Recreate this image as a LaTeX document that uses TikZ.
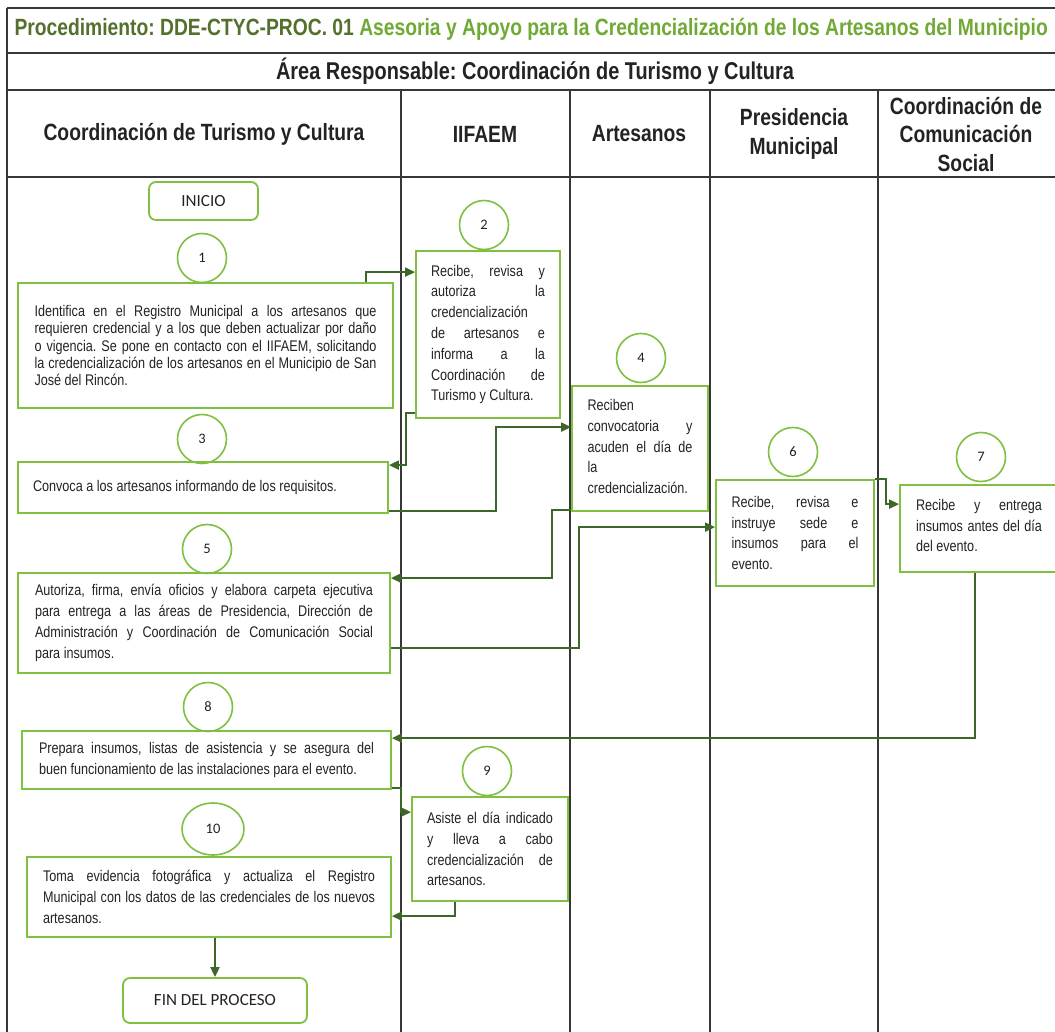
\documentclass[tikz,border=0pt]{standalone}
\usepackage{fontspec}
\setmainfont{Liberation Sans}[FakeStretch=0.82]
\newfontfamily\calib{Carlito}
\usetikzlibrary{arrows.meta,shapes.geometric}
\frenchspacing

\definecolor{boxgreen}{RGB}{128,192,64}
\definecolor{linkgreen}{RGB}{62,102,40}
\definecolor{titledark}{RGB}{84,112,44}
\definecolor{titlelight}{RGB}{112,170,52}
\definecolor{rulegray}{RGB}{55,55,55}
\definecolor{ink}{RGB}{35,35,35}

% one justified line, and one ragged (last) line of a step text
\newcommand\jline[1]{\hbox to\hsize{#1}}
\newcommand\rline[1]{\hbox to\hsize{#1\hfil}}

\tikzset{
  tbl/.style={draw=rulegray, line width=1.3pt},
  stepbox/.style={draw=boxgreen, line width=1.8pt, inner sep=0pt, text=ink,
    font=\fontsize{15.4}{20.8}\selectfont},
  numcirc/.style={circle, draw=boxgreen, line width=1.6pt, minimum size=49pt,
    inner sep=0pt, text=ink, font=\calib\fontsize{14.5}{14.5}\selectfont},
  numoval/.style={ellipse, draw=boxgreen, line width=1.6pt, minimum width=62pt,
    minimum height=52pt, inner sep=0pt, text=ink, font=\calib\fontsize{14.5}{14.5}\selectfont},
  term/.style={draw=boxgreen, line width=1.8pt, rounded corners=7pt, inner sep=0pt,
    text=ink, font=\calib\fontsize{17}{17}\selectfont},
  head/.style={text=ink, align=center, font=\bfseries\fontsize{23.5}{28.5}\selectfont},
  conn/.style={draw=linkgreen, line width=1.8pt, -{Triangle[length=10pt,width=9pt]}},
}

\begin{document}
\begin{tikzpicture}[x=1pt, y=-1pt]
\useasboundingbox (0,0) rectangle (1055,1032);
\clip (0,0) rectangle (1055,1032);
\fill[white] (0,0) rectangle (1055,1032);

% table frame and swimlanes
\draw[tbl] (7,8) -- (1062,8);
\draw[tbl] (7,53) -- (1062,53);
\draw[tbl] (7,90) -- (1062,90);
\draw[tbl] (7,177) -- (1062,177);
\draw[tbl] (7,8) -- (7,1040);
\draw[tbl] (401,90) -- (401,1040);
\draw[tbl] (570,90) -- (570,1040);
\draw[tbl] (710,90) -- (710,1040);
\draw[tbl] (878,90) -- (878,1040);

% title rows
\node[anchor=west, font=\bfseries\fontsize{23.5}{23.5}\selectfont] (title) at (11,29)
  {\textcolor{titledark}{Procedimiento: DDE-CTYC-PROC. 01} \textcolor{titlelight}{Asesoria y Apoyo para la Credencialización de los Artesanos del Municipio}};
\node[head, font=\bfseries\fontsize{24.3}{24.3}\selectfont] (area) at (535,71) {Área Responsable: Coordinación de Turismo y Cultura};

% lane headings
\node[head] (h1) at (204,134) {Coordinación de Turismo y Cultura};
\node[head] (h2) at (485,134) {IIFAEM};
\node[head] (h3) at (639,134) {Artesanos};
\node[head] (h4) at (794,134) {Presidencia\\Municipal};
\node[head] (h5) at (966,134) {Coordinación de\\Comunicación\\Social};

% start and end
\node[term, minimum width=109pt, minimum height=38pt] (start) at (203.5,201) {INICIO};
\node[term, minimum width=184pt, minimum height=45pt] (fin) at (215,1000.5) {FIN DEL PROCESO};

% step numbers
\node[numcirc] (n1) at (202,258) {1};
\node[numcirc] (n2) at (484,225) {2};
\node[numcirc] (n3) at (202,439) {3};
\node[numcirc] (n4) at (641,358) {4};
\node[numcirc] (n5) at (207,549) {5};
\node[numcirc] (n6) at (793,452) {6};
\node[numcirc] (n7) at (981,457) {7};
\node[numcirc] (n8) at (208,707) {8};
\node[numcirc] (n9) at (487,771) {9};
\node[numoval] (n10) at (213,829) {10};

% steps
\node[stepbox, minimum width=375pt, minimum height=125pt, font=\fontsize{15.4}{17.2}\selectfont] (b1) at (205.5,345.5)
  {\parbox{342pt}{%
   \jline{Identifica en el Registro Municipal a los artesanos que}%
   \jline{requieren credencial y a los que deben actualizar por daño}%
   \jline{o vigencia. Se pone en contacto con el IIFAEM, solicitando}%
   \jline{la credencialización de los artesanos en el Municipio de San}%
   \rline{José del Rincón.}}};

\node[stepbox, minimum width=144pt, minimum height=167pt] (b2) at (488,334.5)
  {\parbox{114pt}{%
   \jline{Recibe, revisa y}%
   \jline{autoriza la}%
   \rline{credencialización}%
   \jline{de artesanos e}%
   \jline{informa a la}%
   \jline{Coordinación de}%
   \rline{Turismo y Cultura.}}};

\node[stepbox, minimum width=370pt, minimum height=51pt] (b3) at (203,487.5)
  {\parbox{340pt}{\rline{Convoca a los artesanos informando de los requisitos.}}};

\node[stepbox, minimum width=136pt, minimum height=125pt] (b4) at (640,448.5)
  {\parbox{105pt}{%
   \rline{Reciben}%
   \jline{convocatoria y}%
   \jline{acuden el día de}%
   \rline{la}%
   \rline{credencialización.}\vspace{4pt}}};

\node[stepbox, minimum width=372pt, minimum height=100pt] (b5) at (204,623)
  {\parbox{338pt}{%
   \jline{Autoriza, firma, envía oficios y elabora carpeta ejecutiva}%
   \jline{para entrega a las áreas de Presidencia, Dirección de}%
   \jline{Administración y Coordinación de Comunicación Social}%
   \rline{para insumos.}}};

\node[stepbox, minimum width=158pt, minimum height=106pt] (b6) at (795,533)
  {\parbox{127pt}{%
   \jline{Recibe, revisa e}%
   \jline{instruye sede e}%
   \jline{insumos para el}%
   \rline{evento.}}};

\node[stepbox, minimum width=158pt, minimum height=87pt] (b7) at (979,528.5)
  {\parbox{126pt}{%
   \jline{Recibe y entrega}%
   \jline{insumos antes del día}%
   \rline{del evento.}\vspace{6pt}}};

\node[stepbox, minimum width=369pt, minimum height=58pt] (b8) at (206.5,760)
  {\parbox{335pt}{%
   \jline{Prepara insumos, listas de asistencia y se asegura del}%
   \rline{buen funcionamiento de las instalaciones para el evento.}}};

\node[stepbox, minimum width=156pt, minimum height=104pt] (b9) at (490,849)
  {\parbox{126pt}{%
   \jline{Asiste el día indicado}%
   \jline{y lleva a cabo}%
   \jline{credencialización de}%
   \rline{artesanos.}}};

\node[stepbox, minimum width=364pt, minimum height=80pt] (b10) at (209,897)
  {\parbox{332pt}{%
   \jline{Toma evidencia fotográfica y actualiza el Registro}%
   \jline{Municipal con los datos de las credenciales de los nuevos}%
   \rline{artesanos.}}};

% flow between lanes
\draw[conn] ([xshift=-28pt]b1.north east) |- ([yshift=-22pt]b2.north west);
\draw[conn] ([yshift=6pt]b2.south west) -- ++(-9,0) |- ([yshift=-4pt]b3.north east);
\draw[conn] ([yshift=3pt]b3.south east) -- ++(107,0) |- ([yshift=-42pt]b4.north west);
\draw[conn] ([yshift=2pt]b4.south west) -- ++(-19,0) |- ([yshift=-6pt]b5.north east);
\draw[conn] ([yshift=26pt]b5.south east) -- ++(188,0) |- ([yshift=-48pt]b6.north west);
\draw[conn] (b6.north east) -- ++(11,0) |- ([yshift=-20pt]b7.north west);
\draw[conn] ([xshift=-4pt]b7.south) |- ([yshift=-8pt]b8.north east);
\draw[conn] ([yshift=2pt]b8.south east) -- ++(9,0) |- ([yshift=-16pt]b9.north west);
\draw[conn] ([xshift=-35pt]b9.south) |- ([yshift=-60pt]b10.north east);
\draw[conn] (b10.south -| fin.north) -- (fin.north);
\end{tikzpicture}
\end{document}
